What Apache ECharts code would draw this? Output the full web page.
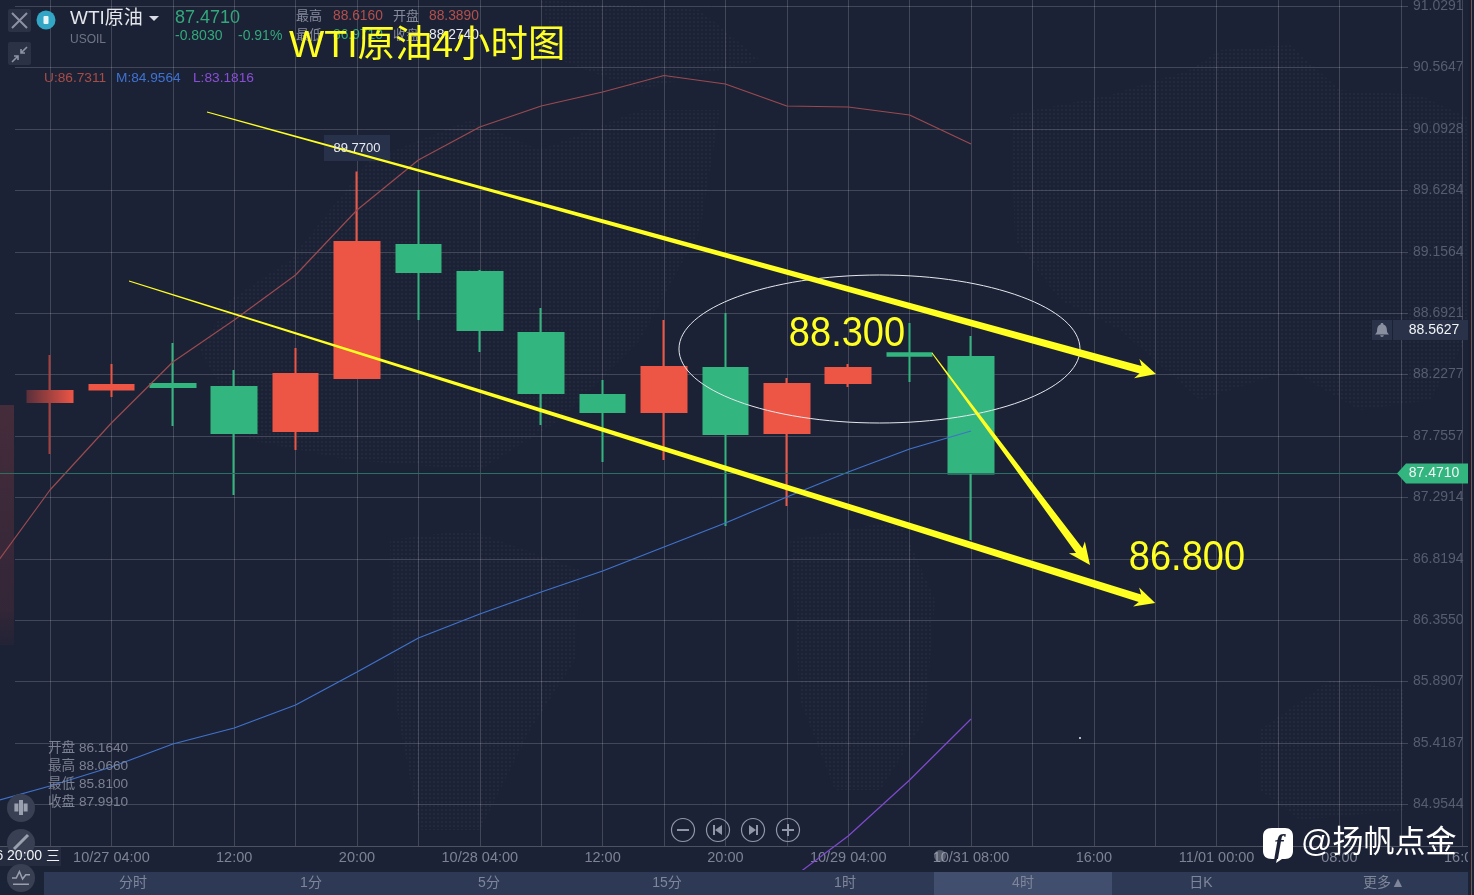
<!DOCTYPE html>
<html><head><meta charset="utf-8">
<style>html,body{margin:0;padding:0;background:#1c2235;overflow:hidden}#c{width:1474px;height:895px}</style>
<script src="https://cdn.jsdelivr.net/npm/echarts@6/dist/echarts.min.js"></script>
</head><body><div id="c"></div>
<script>
// ---- data ----
const categories = ['10/26 20:00','10/27 00:00','10/27 04:00','08:00','12:00','16:00','20:00','10/28 00:00','10/28 04:00','08:00','12:00','16:00','20:00','10/29 00:00','10/29 04:00','10/31 04:00','10/31 08:00','12:00','16:00','20:00','11/01 00:00','04:00','08:00','12:00','16:00'];
const yTicks = [91.0291,90.5647,90.0928,89.6284,89.1564,88.6921,88.2277,87.7557,87.2914,86.8194,86.3550,85.8907,85.4187,84.9544];
// open, close, low, high
const candles = [
 null,
 [88.0147,88.0984,87.6189,88.3724],
 [88.1098,88.1441,88.0527,88.3039],
 [88.1517,88.1289,87.8320,88.4638],
 [88.1289,87.7787,87.3068,88.2583],
 [87.7939,88.2278,87.6493,88.4257],
 [88.1974,89.2326,88.1974,89.7700],
 [89.2098,89.0042,88.6389,89.6284],
 [89.0042,88.5627,88.3953,89.0195],
 [88.5399,88.0832,87.8396,88.7302],
 [88.0680,87.9386,87.5580,88.1821],
 [87.9386,88.2811,87.5732,88.6389],
 [88.2735,87.7711,87.0708,88.6921],
 [87.7787,88.1517,87.2230,88.1974],
 [88.1593,88.2735,88.1289,88.3039],
 [88.3854,88.3671,88.1669,88.6160],
 [88.3572,87.4710,86.9642,88.5171]
];
const upperBand = [86.7054,87.3448,87.8548,88.3192,88.6389,88.9814,89.4762,89.8568,90.1080,90.2678,90.3744,90.5000,90.4353,90.2678,90.2602,90.1993,89.9786];
const middleBand = [84.9623,85.0917,85.2363,85.4114,85.5332,85.7082,85.9594,86.2182,86.4009,86.5684,86.7282,86.9109,87.0936,87.2915,87.4818,87.6569,87.7939];
const lowerBand = ['-','-','-','-','-','-','-','-','-','-','-','-','-',84.3609,84.7111,85.1373,85.6017];
const axisMin = 84.6349, axisMax = 91.0747;
const lastPrice = 87.4710, alertPrice = 88.5627;
// hand-drawn annotations, in [slot, price]
const upperTrend = [[3.557,90.2222],[19.013,88.2278]];
const lowerTrend = [[2.287,88.9357],[19.0,86.4847]];
const shortTrend = [[15.365,88.3876],[17.938,86.7739]];
const ellipseBox = [11.244,17.775,88.9814,87.8548];
const target1 = [13.98,88.5399,'88.300'];
const target2 = [19.517,86.8348,'86.800'];
const highTag = [6,89.9481,'89.7700'];
const strayDot = [17.775,85.4570];

// ---- colours ----
const BG='#1c2235', RED='#ed5545', GREEN='#33b57f', YEL='#ffff22', GREY='#868c9c';
const FONT='"Liberation Sans","Noto Sans CJK SC",sans-serif';

const chart = echarts.init(document.getElementById('c'), null, {renderer:'canvas'});

function taper(api, seg, w0, w1, headL, headW){
  const a=api.coord(seg[0]), b=api.coord(seg[1]);
  const dx=b[0]-a[0], dy=b[1]-a[1], L=Math.hypot(dx,dy), ux=dx/L, uy=dy/L, nx=-uy, ny=ux;
  const nk=[b[0]-ux*headL, b[1]-uy*headL];
  const back=[nk[0]+ux*4, nk[1]+uy*4];
  return {type:'polygon', shape:{points:[
    [a[0]+nx*w0/2,a[1]+ny*w0/2],
    [back[0]+nx*w1/2,back[1]+ny*w1/2],
    [nk[0]+nx*headW/2,nk[1]+ny*headW/2],
    b,
    [nk[0]-nx*headW/2,nk[1]-ny*headW/2],
    [back[0]-nx*w1/2,back[1]-ny*w1/2],
    [a[0]-nx*w0/2,a[1]-ny*w0/2]
  ]}, style:{fill:YEL}};
}
function renderMarks(params, api){
  const kids=[];
  const l=api.coord([ellipseBox[0],ellipseBox[2]]), r=api.coord([ellipseBox[1],ellipseBox[3]]);
  kids.push({type:'ellipse',shape:{cx:(l[0]+r[0])/2,cy:(l[1]+r[1])/2,rx:(r[0]-l[0])/2,ry:(r[1]-l[1])/2},style:{fill:'none',stroke:'#e6e8ee',lineWidth:1}});
  kids.push(taper(api,upperTrend,1,8,20,20));
  kids.push(taper(api,lowerTrend,1,8,20,20));
  kids.push(taper(api,shortTrend,1,8,22,20));
  [target1,target2].forEach(t=>{const p=api.coord(t);kids.push({type:'text',x:p[0],y:p[1]+1,scaleY:1.1,style:{text:t[2],fill:YEL,font:'38px "Liberation Sans"',textAlign:'center',textVerticalAlign:'middle'}});});
  const h=api.coord(highTag);
  kids.push({type:'rect',shape:{x:h[0]-33,y:h[1]-13,width:66,height:26},style:{fill:'#28314a'},z2:-1});
  kids.push({type:'text',x:h[0],y:h[1],style:{text:highTag[2],fill:'#e8eaf0',font:'13px '+FONT,textAlign:'center',textVerticalAlign:'middle'}});
  const d=api.coord(strayDot);
  kids.push({type:'circle',shape:{cx:d[0],cy:d[1],r:1},style:{fill:'#e8eaf0'}});
  return {type:'group',children:kids};
}
function renderTags(params, api){
  const y=Math.round(api.coord([0,lastPrice])[1])+0.5, a=Math.round(api.coord([0,alertPrice])[1]);
  return {type:'group',children:[
    {type:'line',shape:{x1:0,y1:y,x2:1400,y2:y},style:{stroke:'#2a6f66',lineWidth:1}},
    {type:'polygon',shape:{points:[[1397,y],[1406,y-10],[1472,y-10],[1472,y+10],[1406,y+10]]},style:{fill:GREEN}},
    {type:'text',x:1434,y:y,style:{text:lastPrice.toFixed(4),fill:'#f2f5f5',font:'14px '+FONT,textAlign:'center',textVerticalAlign:'middle'}},
    {type:'rect',shape:{x:1393,y:a-10,width:79,height:20},style:{fill:'#2a3249'}},
    {type:'text',x:1434,y:a,style:{text:alertPrice.toFixed(4),fill:'#f2f5f5',font:'14px '+FONT,textAlign:'center',textVerticalAlign:'middle'}},
    {type:'rect',shape:{x:1372,y:a-10,width:20,height:20},style:{fill:'#2a3249'}},
    {type:'path',shape:{pathData:'M8 0C9 0 9.6 .6 9.6 1.6C12.4 2.4 13.6 5 13.6 8C13.6 10.5 14.4 11.5 16 13L0 13C1.6 11.5 2.4 10.5 2.4 8C2.4 5 3.6 2.4 6.4 1.6C6.4 .6 7 0 8 0ZM6 14L10 14C10 15.2 9 16 8 16C7 16 6 15.2 6 14Z',x:1375,y:a-8,width:14,height:16},style:{fill:'#8a8f9f'}}
  ]};
}
// small ui glyphs
const glyphs=[
 {d:'M0 0L15 15M15 0L0 15',x:12,y:13,w:15,h:15,stroke:'#8d93a3',lw:2},
 {d:'M15 0L9 6M9 2L9 6L13 6M0 15L6 9M2 9L6 9L6 13',x:12,y:47,w:15,h:15,stroke:'#8d93a3',lw:1.6},
 {d:'M1 4V11M5 1V14M9 4V11',x:13,y:800,w:16,h:15,stroke:'#9aa0ae',lw:4},
 {d:'M0 14L12 2',x:14,y:835,w:14,h:14,stroke:'#9aa0ae',lw:3},
 {d:'M0 8L4 8L7 2L10 9L13 5L17 5M1 14L16 14',x:12,y:871,w:18,h:14,stroke:'#9aa0ae',lw:1.5},
 {d:'M9 0H22C27 0 30 3 30 8V23C30 28 27 31 22 31H19L13 35L14 31H9C3 31 0 28 0 23V8C0 3 3 0 9 0Z',x:1263,y:828,w:30,h:35,fill:'#ffffff'}
];
function renderGlyphs(){
  return {type:'group',children:glyphs.map(g=>({type:'path',shape:{pathData:g.d,x:g.x,y:g.y,width:g.w,height:g.h},style:{fill:g.fill||'none',stroke:g.stroke||null,lineWidth:g.lw||0}}))};
}

// ---- dotted world-map backdrop ----
const dot=document.createElement('canvas');dot.width=4;dot.height=4;
const dc=dot.getContext('2d');dc.fillStyle='rgba(255,255,255,0.03)';dc.fillRect(1,1,2,2);
const mapShapes=[
 [[1010,115],[1110,95],[1190,70],[1220,50],[1290,45],[1340,90],[1420,95],[1472,120],[1472,330],[1430,400],[1360,410],[1290,370],[1200,400],[1120,330],[1060,300],[1015,240]],
 [[200,350],[230,300],[290,260],[370,160],[470,120],[540,150],[640,110],[720,110],[700,230],[640,340],[560,420],[480,470],[350,460],[250,440]],
 [[390,540],[470,530],[580,570],[575,660],[530,730],[480,830],[420,830],[395,700]],
 [[790,540],[900,520],[935,600],[925,720],[880,790],[835,790],[800,700]],
 [[1260,730],[1330,680],[1405,690],[1405,810],[1300,820],[1260,790]],
 [[540,0],[700,10],[760,60],[640,90],[560,60]]
];

// ---- ui chrome ----
function T(text,x,y,size,fill,align,extra){
  return Object.assign({type:'text',z:100,style:{text:text,x:x,y:y,fill:fill,font:size+'px '+FONT,textAlign:align||'left',textVerticalAlign:'middle'}},extra||{});
}
const readout=['开盘 86.1640','最高 88.0660','最低 85.8100','收盘 87.9910'];
const tabs=[['分时',133],['1分',311],['5分',489],['15分',667],['1时',845],['4时',1023],['日K',1201],['更多▲',1384]];
const gfx=[];
mapShapes.forEach(s=>gfx.push({type:'polygon',z:-1,silent:true,shape:{points:s},style:{fill:{image:dot,repeat:'repeat'}}}));
// left fading strip
gfx.push({type:'rect',z:1,shape:{x:0,y:405,width:14,height:240},style:{fill:new echarts.graphic.LinearGradient(0,0,0,1,[{offset:0,color:'rgba(92,50,62,.65)'},{offset:.85,color:'rgba(70,42,58,.55)'},{offset:1,color:'rgba(60,40,55,.2)'}])}});
// bottom bars
gfx.push({type:'rect',z:90,shape:{x:0,y:870,width:1474,height:25},style:{fill:'#1b2437'}});
gfx.push({type:'rect',z:91,shape:{x:44,y:872,width:1424,height:23},style:{fill:'#2e3a55'}});
gfx.push({type:'rect',z:92,shape:{x:934,y:872,width:178,height:23},style:{fill:'#414e6d'}});
tabs.forEach(t=>gfx.push(T(t[0],t[1],883,14,'#7f8699','center')));
// right edge
gfx.push({type:'rect',z:89,shape:{x:1468,y:0,width:6,height:895},style:{fill:'#1a2033'}});
gfx.push({type:'rect',z:93,shape:{x:1471,y:0,width:1,height:895},style:{fill:'#7a5750'}});
// crosshair date label
gfx.push({type:'rect',z:94,shape:{x:0,y:847,width:61,height:19},style:{fill:'#262c40'}});
gfx.push(T('10/26 20:00 三',60,856,14,'#f0f2f5','right'));
gfx.push({type:'circle',z:95,shape:{cx:940,cy:856,r:6},style:{fill:'rgba(200,205,215,.35)'}});
// top-left buttons
[[8,9],[8,42]].forEach(b=>gfx.push({type:'rect',z:96,shape:{x:b[0],y:b[1],width:23,height:23,r:2},style:{fill:'#2c3246'}}));
// logo + header
gfx.push({type:'circle',z:96,shape:{cx:46,cy:20,r:9.5},style:{fill:'#33a6c6'}});
gfx.push({type:'rect',z:97,shape:{x:43.5,y:16,width:5,height:8,r:1},style:{fill:'#e8f5f8'}});
gfx.push(T('WTI原油',70,19,19,'#e4e6ec'));
gfx.push({type:'polygon',z:96,shape:{points:[[149,16],[159,16],[154,21]]},style:{fill:'#d8dbe3'}});
gfx.push(T('USOIL',70,40,12,'#6f7586'));
gfx.push(T('87.4710',175,18,18,'#33a87c'));
gfx.push(T('-0.8030',175,36,14,'#33a87c'));
gfx.push(T('-0.91%',238,36,14,'#33a87c'));
gfx.push(T('最高',296,16,13,GREY));
gfx.push(T('88.6160',333,16,13.8,'#b4504c'));
gfx.push(T('开盘',393,16,13,GREY));
gfx.push(T('88.3890',429,16,13.8,'#b4504c'));
gfx.push(T('最低',296,35,13,GREY));
gfx.push(T('86.9710',333,35,13.8,'#33a87c'));
gfx.push(T('收盘',393,35,13,GREY));
gfx.push(T('88.2740',429,35,13.8,'#e8eaf0'));
gfx.push(T('U:86.7311',44,78,13.7,'#a84c48'));
gfx.push(T('M:84.9564',116,78,13.7,'#3f72d2'));
gfx.push(T('L:83.1816',193,78,13.7,'#8a4ed6'));
gfx.push(T('WTI原油4小时图',289,47,37.4,YEL,'left',{z:110}));
readout.forEach((s,i)=>gfx.push(T(s,48,748+18*i,13.6,'#7d8292')));
// left round tools
[[21,808],[21,843],[21,878]].forEach(p=>gfx.push({type:'circle',z:96,shape:{cx:p[0],cy:p[1],r:14},style:{fill:'#3a4053'}}));
// zoom controls
[683,718,753,788].forEach(c=>{
  gfx.push({type:'circle',z:96,shape:{cx:c,cy:830,r:11.5},style:{fill:'none',stroke:'#9197a6',lineWidth:1.2}});
});
gfx.push({type:'rect',z:97,shape:{x:677,y:829,width:12,height:2},style:{fill:'#9197a6'}});
gfx.push({type:'rect',z:97,shape:{x:782,y:829,width:12,height:2},style:{fill:'#9197a6'}});
gfx.push({type:'rect',z:97,shape:{x:787,y:824,width:2,height:12},style:{fill:'#9197a6'}});
gfx.push({type:'polygon',z:97,shape:{points:[[722,825],[722,835],[715,830]]},style:{fill:'#9197a6'}});
gfx.push({type:'rect',z:97,shape:{x:713,y:825,width:2,height:10},style:{fill:'#9197a6'}});
gfx.push({type:'polygon',z:97,shape:{points:[[749,825],[749,835],[756,830]]},style:{fill:'#9197a6'}});
gfx.push({type:'rect',z:97,shape:{x:756,y:825,width:2,height:10},style:{fill:'#9197a6'}});
// watermark
gfx.push({type:'text',z:121,style:{text:'f',x:1279,y:846,fill:'#1c2235',font:'italic bold 28px "Liberation Serif"',textAlign:'center',textVerticalAlign:'middle'}});
gfx.push(T('@扬帆点金',1301,843,31,'#ffffff','left',{z:120}));

const gridCol='rgba(255,255,255,0.17)';
const firstGrad=()=>new echarts.graphic.LinearGradient(0,0,1,0,[{offset:0,color:'#5a2f3a'},{offset:1,color:RED}]);
chart.setOption({
  animation:false,
  backgroundColor:BG,
  grid:[
    {left:-42.1,top:0,width:1535,height:846,containLabel:false,outerBoundsMode:'none'},
    {left:15,top:0,width:1393,height:846,containLabel:false,outerBoundsMode:'none'}
  ],
  xAxis:[
    {type:'category',gridIndex:0,data:categories,boundaryGap:true,
     axisLine:{show:true,lineStyle:{color:'rgba(255,255,255,0.22)'}},axisTick:{show:false},
     axisLabel:{interval:(i)=>i>0&&i%2===0,color:'#7d8394',fontSize:14.5,fontFamily:FONT,margin:5,hideOverlap:false},
     splitLine:{show:true,alignWithLabel:true,interval:0,lineStyle:{color:gridCol,width:1}}},
    {type:'value',gridIndex:0,min:-0.5,max:24.5,show:false,splitLine:{show:false}},
    {type:'value',gridIndex:1,min:0,max:1,show:false,splitLine:{show:false}}
  ],
  yAxis:[
    {type:'value',gridIndex:0,min:axisMin,max:axisMax,show:false,splitLine:{show:false}},
    {type:'value',gridIndex:1,min:axisMin,max:axisMax,position:'right',
     axisLine:{show:false},axisTick:{show:false,customValues:yTicks},
     axisLabel:{customValues:yTicks,inside:false,margin:5,padding:[2,0,0,0],color:'#565d70',fontSize:14,fontFamily:FONT,align:'left',formatter:v=>v.toFixed(4)},
     splitLine:{show:true,lineStyle:{color:gridCol,width:1}}}
  ],
  graphic:{elements:gfx},
  series:[
    {name:'K',type:'candlestick',xAxisIndex:0,yAxisIndex:0,barWidth:45,z:3,
     itemStyle:{color:RED,color0:GREEN,borderColor:RED,borderColor0:GREEN,borderWidth:2},
     data:candles.map((c,i)=> i===1 ? {value:c,itemStyle:{color:firstGrad(),borderColor:firstGrad()}} : (c||'-'))},
    {name:'U',type:'line',xAxisIndex:0,yAxisIndex:0,data:upperBand,symbol:'none',z:4,lineStyle:{color:'#9a4a50',width:1.2}},
    {name:'M',type:'line',xAxisIndex:0,yAxisIndex:0,data:middleBand,symbol:'none',z:4,lineStyle:{color:'#3f72cc',width:1.2}},
    {name:'L',type:'line',xAxisIndex:0,yAxisIndex:0,data:lowerBand,symbol:'none',z:4,clip:false,connectNulls:false,lineStyle:{color:'#7f49cf',width:1.2}},
    {name:'marks',type:'custom',xAxisIndex:1,yAxisIndex:0,data:[[0,88]],renderItem:renderMarks,z:6,silent:true,clip:false},
    {name:'tags',type:'custom',xAxisIndex:1,yAxisIndex:0,data:[[0,88]],renderItem:renderTags,z:5,silent:true,clip:false},
    {name:'glyphs',type:'custom',xAxisIndex:1,yAxisIndex:0,data:[[0,88]],renderItem:renderGlyphs,z:98,silent:true,clip:false}
  ]
});
</script></body></html>
